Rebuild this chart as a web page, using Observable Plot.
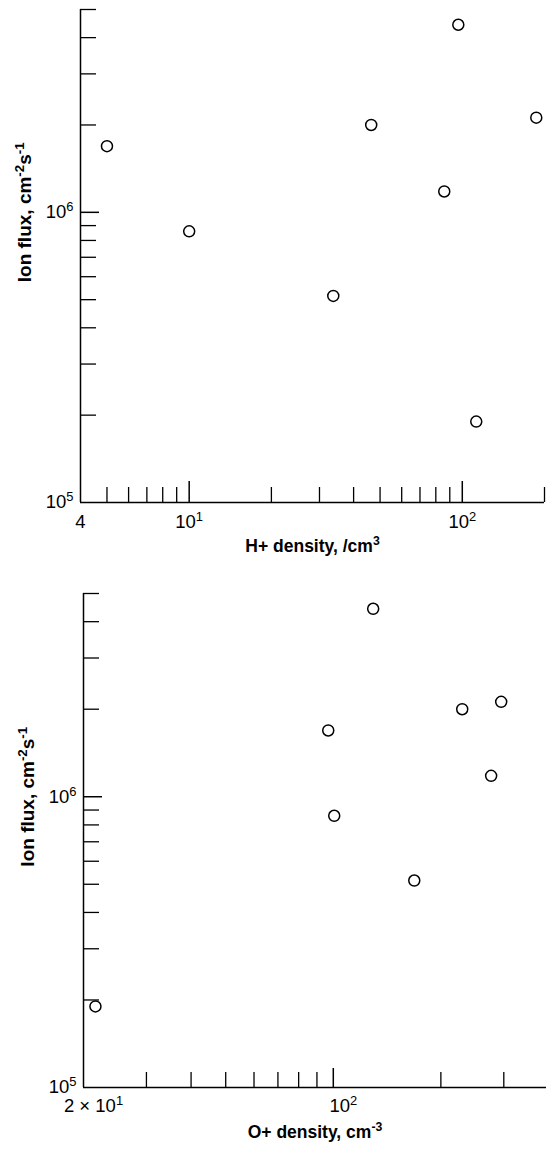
<!DOCTYPE html>
<html><head><meta charset="utf-8">
<script src="https://cdn.jsdelivr.net/npm/d3@7"></script>
<script src="https://cdn.jsdelivr.net/npm/@observablehq/plot@0.6"></script>
<style>
body{margin:0;background:#fff;}
#chart svg{display:block;}
</style>
</head><body><div id="chart"></div>
<script>
// ---- data ----
const hDensity = [5.0, 10, 96.7, 46.4, 186.6, 85.9, 33.7, 112.5];      // H+ density, /cm3
const oDensity = [96.8, 100.6, 129.3, 229.5, 295, 276.5, 168.5, 21.6]; // O+ density, cm-3
const ionFlux  = [1.69e6, 0.86e6, 4.43e6, 2.0e6, 2.12e6, 1.18e6, 0.515e6, 0.19e6];

// ---- axis ticks & labels ----
const yMinorTicks = [2e5, 3e5, 4e5, 5e5, 6e5, 7e5, 8e5, 9e5, 2e6, 3e6, 4e6, 5e6];
const yMajorTicks = [1e6];
const yLabelTicks = [1e5, 1e6];
const yLabels = ["10^{5}", "10^{6}"];

const hMinorTicks = [5, 6, 7, 8, 9, 20, 30, 40, 50, 60, 70, 80, 90, 200];
const hMajorTicks = [10, 100];
const hLabelTicks = [4, 10, 100];
const hLabels = ["4", "10^{1}", "10^{2}"];

const oMinorTicks = [30, 40, 50, 60, 70, 80, 90, 200, 300];
const oMajorTicks = [100];
const oLabelTicks = [20, 100];
const oLabels = ["2 \u00d7 10^{1}", "10^{2}"];

const yTitle = "Ion flux, cm^{-2}s^{-1}";
const hTitle = "H+ density, /cm^{3}";
const oTitle = "O+ density, cm^{-3}";

const topData = hDensity.map((x, i) => ({x, y: ionFlux[i]}));
const botData = oDensity.map((x, i) => ({x, y: ionFlux[i]}));

const font = "'Liberation Sans', Arial, Helvetica, sans-serif";

function supify(svg) {
  svg.querySelectorAll("text").forEach(t => {
    const s = t.textContent;
    if (!s.includes("^{")) return;
    while (t.firstChild) t.removeChild(t.firstChild);
    const parts = s.split(/\^\{([^}]*)\}/);
    let raised = false;
    parts.forEach((p, i) => {
      if (!p) return;
      const ts = document.createElementNS("http://www.w3.org/2000/svg", "tspan");
      ts.textContent = p;
      if (i % 2 === 1) { ts.setAttribute("dy", "-7"); ts.setAttribute("font-size", "70%"); raised = true; }
      else if (raised) { ts.setAttribute("dy", "7"); raised = false; }
      t.appendChild(ts);
    });
  });
  return svg;
}

function panel({data, xDomain, height, marginTop, marginBottom, marginLeft, marginRight,
                minor, major, labelTicks, labels, xTitle, titleDy, labelDy, labelDx, xMajorSize}) {
  return Plot.plot({
    width: 546, height, marginTop, marginBottom, marginLeft, marginRight,
    style: {fontFamily: font, fontSize: "16px", background: "white", color: "black"},
    x: {type: "log", domain: xDomain, label: null, axis: null},
    y: {type: "log", domain: [1e5, 5e6], label: null, axis: null},
    marks: [
      Plot.ruleY([1e5], {stroke: "black", strokeWidth: 1.5}),
      Plot.ruleX([xDomain[0]], {stroke: "black", strokeWidth: 1.5}),
      // x ticks (inward)
      Plot.axisX(minor, {anchor: "bottom", tickSize: -15, tickFormat: () => "", strokeWidth: 1.3, label: null}),
      Plot.axisX(major, {anchor: "bottom", tickSize: -xMajorSize, tickFormat: () => "", strokeWidth: 1.5, label: null}),
      // y ticks (inward)
      Plot.axisY(yMinorTicks, {anchor: "left", tickSize: -16, tickFormat: () => "", strokeWidth: 1.3, label: null}),
      Plot.axisY(yMajorTicks, {anchor: "left", tickSize: -19, tickFormat: () => "", strokeWidth: 1.5, label: null}),
      // tick labels
      Plot.text(labelTicks, {x: d => d, frameAnchor: "bottom", dy: labelDy, dx: labelDx,
        text: (d, i) => labels[i], fontSize: 18.5}),
      Plot.text(yLabelTicks, {y: d => d, frameAnchor: "left", dx: -7, textAnchor: "end",
        text: (d, i) => yLabels[i], fontSize: 18.5}),
      // titles
      Plot.text([yTitle], {x: xDomain[0], y: () => 1e6, text: d => d, rotate: -90, dx: -56,
        fontWeight: "bold", fontSize: 19, letterSpacing: "0.6px"}),
      Plot.text([xTitle], {frameAnchor: "bottom", text: d => d, dy: titleDy,
        fontWeight: "bold", fontSize: 17.5, letterSpacing: "0.8px"}),
      // data
      Plot.dot(data, {x: "x", y: "y", r: 5.5, stroke: "black", strokeWidth: 1.5, fill: "none"})
    ]
  });
}

const topPanel = panel({data: topData, xDomain: [4, 200], height: 560, marginTop: 9, marginBottom: 58,
  marginLeft: 80, marginRight: 2, minor: hMinorTicks, major: hMajorTicks,
  labelTicks: hLabelTicks, labels: hLabels, xTitle: hTitle, titleDy: 49, labelDy: 25, labelDx: 0, xMajorSize: 21});
const botPanel = panel({data: botData, xDomain: [20, 395], height: 595, marginTop: 33, marginBottom: 68,
  marginLeft: 83, marginRight: 0, minor: oMinorTicks, major: oMajorTicks,
  labelTicks: oLabelTicks, labels: oLabels, xTitle: oTitle, titleDy: 50, labelDy: 24, labelDx: 10, xMajorSize: 19});

const el = document.getElementById("chart");
el.appendChild(supify(topPanel));
el.appendChild(supify(botPanel));
</script>
</body></html>
